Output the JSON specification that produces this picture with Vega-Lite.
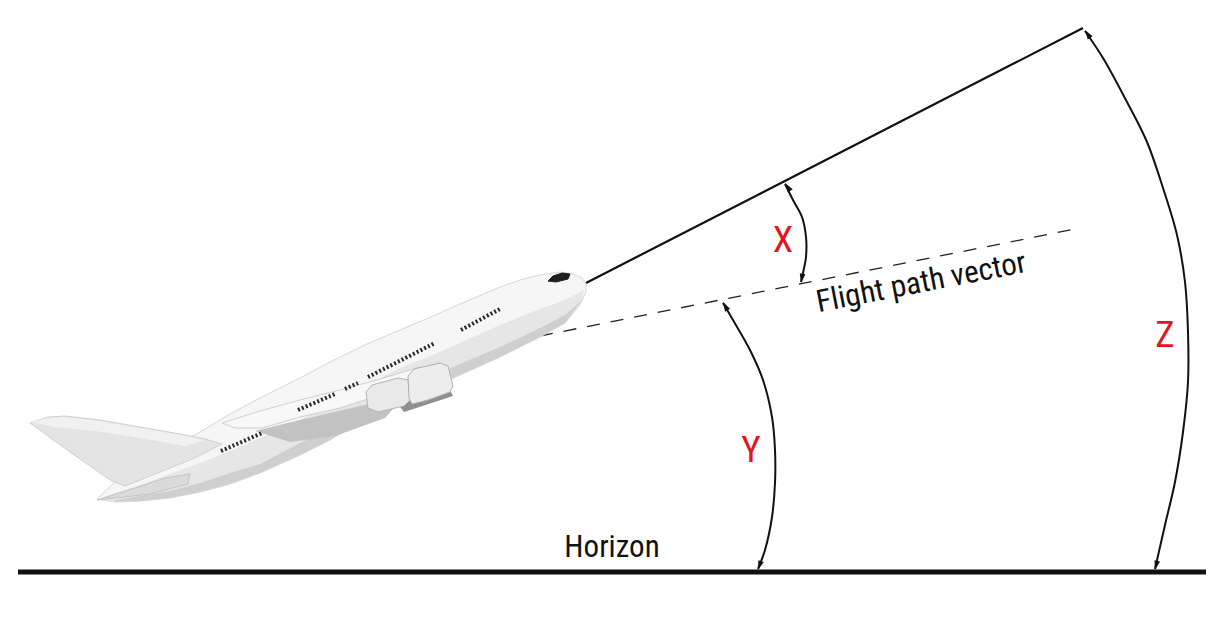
{
  "$schema": "https://vega.github.io/schema/vega-lite/v6.json",
  "description": "Pitch attitude, flight path angle and angle of attack diagram",
  "width": 1224,
  "height": 620,
  "autosize": {"type": "fit", "contains": "padding"},
  "padding": 0,
  "background": "white",
  "config": {"view": {"stroke": null}},
  "datasets": {
    "guides": [
      {"part": "horizon", "i": 0, "x": 18, "y": 572},
      {"part": "horizon", "i": 1, "x": 1206, "y": 572},
      {"part": "sight", "i": 0, "x": 586, "y": 283},
      {"part": "sight", "i": 1, "x": 1083, "y": 28},
      {"part": "fpv", "i": 0, "x": 540, "y": 336},
      {"part": "fpv", "i": 1, "x": 1080, "y": 228}
    ],
    "arcs": [
      {"arc": "X", "i": 0, "x": 785, "y": 184},
      {"arc": "X", "i": 1, "x": 793, "y": 200},
      {"arc": "X", "i": 2, "x": 802, "y": 217},
      {"arc": "X", "i": 3, "x": 806, "y": 237},
      {"arc": "X", "i": 4, "x": 806, "y": 257},
      {"arc": "X", "i": 5, "x": 803, "y": 273},
      {"arc": "X", "i": 6, "x": 801, "y": 282},
      {"arc": "Y", "i": 0, "x": 723, "y": 303},
      {"arc": "Y", "i": 1, "x": 733, "y": 320},
      {"arc": "Y", "i": 2, "x": 750, "y": 350},
      {"arc": "Y", "i": 3, "x": 763, "y": 380},
      {"arc": "Y", "i": 4, "x": 772, "y": 417},
      {"arc": "Y", "i": 5, "x": 775, "y": 450},
      {"arc": "Y", "i": 6, "x": 775, "y": 483},
      {"arc": "Y", "i": 7, "x": 772, "y": 517},
      {"arc": "Y", "i": 8, "x": 765, "y": 550},
      {"arc": "Y", "i": 9, "x": 758, "y": 569},
      {"arc": "Z", "i": 0, "x": 1085, "y": 31},
      {"arc": "Z", "i": 1, "x": 1103, "y": 58},
      {"arc": "Z", "i": 2, "x": 1127, "y": 102},
      {"arc": "Z", "i": 3, "x": 1147, "y": 142},
      {"arc": "Z", "i": 4, "x": 1163, "y": 188},
      {"arc": "Z", "i": 5, "x": 1177, "y": 235},
      {"arc": "Z", "i": 6, "x": 1185, "y": 282},
      {"arc": "Z", "i": 7, "x": 1188, "y": 332},
      {"arc": "Z", "i": 8, "x": 1188, "y": 382},
      {"arc": "Z", "i": 9, "x": 1183, "y": 432},
      {"arc": "Z", "i": 10, "x": 1175, "y": 482},
      {"arc": "Z", "i": 11, "x": 1165, "y": 525},
      {"arc": "Z", "i": 12, "x": 1155, "y": 569}
    ],
    "arrows": [
      {"x": 785, "y": 183, "dir": 326},
      {"x": 801, "y": 283, "dir": 190},
      {"x": 723, "y": 302, "dir": 331},
      {"x": 758, "y": 570, "dir": 199},
      {"x": 1085, "y": 30, "dir": 327},
      {"x": 1155, "y": 570, "dir": 194}
    ],
    "plane": [
      {"part": "fin", "i": 0, "x": 30, "y": 423},
      {"part": "fin", "i": 1, "x": 48, "y": 417},
      {"part": "fin", "i": 2, "x": 65, "y": 416},
      {"part": "fin", "i": 3, "x": 100, "y": 420},
      {"part": "fin", "i": 4, "x": 140, "y": 427},
      {"part": "fin", "i": 5, "x": 180, "y": 434},
      {"part": "fin", "i": 6, "x": 205, "y": 439},
      {"part": "fin", "i": 7, "x": 222, "y": 444},
      {"part": "fin", "i": 8, "x": 195, "y": 458},
      {"part": "fin", "i": 9, "x": 160, "y": 472},
      {"part": "fin", "i": 10, "x": 125, "y": 486},
      {"part": "fin", "i": 11, "x": 110, "y": 480},
      {"part": "fin", "i": 12, "x": 70, "y": 452},
      {"part": "fin", "i": 13, "x": 30, "y": 423},

      {"part": "finband", "i": 0, "x": 32, "y": 422},
      {"part": "finband", "i": 1, "x": 48, "y": 418},
      {"part": "finband", "i": 2, "x": 65, "y": 417},
      {"part": "finband", "i": 3, "x": 100, "y": 421},
      {"part": "finband", "i": 4, "x": 140, "y": 428},
      {"part": "finband", "i": 5, "x": 180, "y": 435},
      {"part": "finband", "i": 6, "x": 205, "y": 440},
      {"part": "finband", "i": 7, "x": 185, "y": 446},
      {"part": "finband", "i": 8, "x": 140, "y": 438},
      {"part": "finband", "i": 9, "x": 95, "y": 431},
      {"part": "finband", "i": 10, "x": 55, "y": 427},
      {"part": "finband", "i": 11, "x": 32, "y": 422},

      {"part": "fuselage", "i": 0, "x": 586, "y": 284},
      {"part": "fuselage", "i": 1, "x": 582, "y": 278},
      {"part": "fuselage", "i": 2, "x": 574, "y": 274},
      {"part": "fuselage", "i": 3, "x": 560, "y": 272},
      {"part": "fuselage", "i": 4, "x": 540, "y": 275},
      {"part": "fuselage", "i": 5, "x": 520, "y": 280},
      {"part": "fuselage", "i": 6, "x": 500, "y": 287},
      {"part": "fuselage", "i": 7, "x": 460, "y": 304},
      {"part": "fuselage", "i": 8, "x": 433, "y": 316},
      {"part": "fuselage", "i": 9, "x": 400, "y": 330},
      {"part": "fuselage", "i": 10, "x": 367, "y": 344},
      {"part": "fuselage", "i": 11, "x": 330, "y": 362},
      {"part": "fuselage", "i": 12, "x": 300, "y": 378},
      {"part": "fuselage", "i": 13, "x": 260, "y": 398},
      {"part": "fuselage", "i": 14, "x": 230, "y": 414},
      {"part": "fuselage", "i": 15, "x": 200, "y": 432},
      {"part": "fuselage", "i": 16, "x": 170, "y": 448},
      {"part": "fuselage", "i": 17, "x": 140, "y": 466},
      {"part": "fuselage", "i": 18, "x": 115, "y": 482},
      {"part": "fuselage", "i": 19, "x": 97, "y": 499},
      {"part": "fuselage", "i": 20, "x": 115, "y": 502},
      {"part": "fuselage", "i": 21, "x": 140, "y": 501},
      {"part": "fuselage", "i": 22, "x": 170, "y": 498},
      {"part": "fuselage", "i": 23, "x": 200, "y": 492},
      {"part": "fuselage", "i": 24, "x": 230, "y": 484},
      {"part": "fuselage", "i": 25, "x": 260, "y": 473},
      {"part": "fuselage", "i": 26, "x": 300, "y": 455},
      {"part": "fuselage", "i": 27, "x": 330, "y": 440},
      {"part": "fuselage", "i": 28, "x": 367, "y": 418},
      {"part": "fuselage", "i": 29, "x": 400, "y": 400},
      {"part": "fuselage", "i": 30, "x": 433, "y": 387},
      {"part": "fuselage", "i": 31, "x": 460, "y": 375},
      {"part": "fuselage", "i": 32, "x": 500, "y": 357},
      {"part": "fuselage", "i": 33, "x": 540, "y": 337},
      {"part": "fuselage", "i": 34, "x": 565, "y": 323},
      {"part": "fuselage", "i": 35, "x": 580, "y": 305},
      {"part": "fuselage", "i": 36, "x": 586, "y": 292},
      {"part": "fuselage", "i": 37, "x": 586, "y": 284},

      {"part": "lower", "i": 0, "x": 584, "y": 290},
      {"part": "lower", "i": 1, "x": 565, "y": 300},
      {"part": "lower", "i": 2, "x": 540, "y": 309},
      {"part": "lower", "i": 3, "x": 500, "y": 325},
      {"part": "lower", "i": 4, "x": 460, "y": 343},
      {"part": "lower", "i": 5, "x": 433, "y": 355},
      {"part": "lower", "i": 6, "x": 400, "y": 368},
      {"part": "lower", "i": 7, "x": 367, "y": 385},
      {"part": "lower", "i": 8, "x": 330, "y": 404},
      {"part": "lower", "i": 9, "x": 300, "y": 420},
      {"part": "lower", "i": 10, "x": 260, "y": 438},
      {"part": "lower", "i": 11, "x": 230, "y": 451},
      {"part": "lower", "i": 12, "x": 200, "y": 463},
      {"part": "lower", "i": 13, "x": 170, "y": 474},
      {"part": "lower", "i": 14, "x": 140, "y": 485},
      {"part": "lower", "i": 15, "x": 115, "y": 493},
      {"part": "lower", "i": 16, "x": 100, "y": 499},
      {"part": "lower", "i": 17, "x": 115, "y": 502},
      {"part": "lower", "i": 18, "x": 140, "y": 501},
      {"part": "lower", "i": 19, "x": 170, "y": 498},
      {"part": "lower", "i": 20, "x": 200, "y": 492},
      {"part": "lower", "i": 21, "x": 230, "y": 484},
      {"part": "lower", "i": 22, "x": 260, "y": 473},
      {"part": "lower", "i": 23, "x": 300, "y": 455},
      {"part": "lower", "i": 24, "x": 330, "y": 440},
      {"part": "lower", "i": 25, "x": 367, "y": 418},
      {"part": "lower", "i": 26, "x": 400, "y": 400},
      {"part": "lower", "i": 27, "x": 433, "y": 387},
      {"part": "lower", "i": 28, "x": 460, "y": 375},
      {"part": "lower", "i": 29, "x": 500, "y": 357},
      {"part": "lower", "i": 30, "x": 540, "y": 337},
      {"part": "lower", "i": 31, "x": 565, "y": 323},
      {"part": "lower", "i": 32, "x": 580, "y": 305},
      {"part": "lower", "i": 33, "x": 584, "y": 290},

      {"part": "belly", "i": 0, "x": 582, "y": 300},
      {"part": "belly", "i": 1, "x": 565, "y": 315},
      {"part": "belly", "i": 2, "x": 540, "y": 328},
      {"part": "belly", "i": 3, "x": 500, "y": 347},
      {"part": "belly", "i": 4, "x": 460, "y": 364},
      {"part": "belly", "i": 5, "x": 433, "y": 376},
      {"part": "belly", "i": 6, "x": 400, "y": 390},
      {"part": "belly", "i": 7, "x": 367, "y": 407},
      {"part": "belly", "i": 8, "x": 330, "y": 428},
      {"part": "belly", "i": 9, "x": 300, "y": 443},
      {"part": "belly", "i": 10, "x": 260, "y": 464},
      {"part": "belly", "i": 11, "x": 230, "y": 473},
      {"part": "belly", "i": 12, "x": 200, "y": 483},
      {"part": "belly", "i": 13, "x": 170, "y": 491},
      {"part": "belly", "i": 14, "x": 140, "y": 496},
      {"part": "belly", "i": 15, "x": 115, "y": 500},
      {"part": "belly", "i": 16, "x": 115, "y": 502},
      {"part": "belly", "i": 17, "x": 140, "y": 501},
      {"part": "belly", "i": 18, "x": 170, "y": 498},
      {"part": "belly", "i": 19, "x": 200, "y": 492},
      {"part": "belly", "i": 20, "x": 230, "y": 484},
      {"part": "belly", "i": 21, "x": 260, "y": 473},
      {"part": "belly", "i": 22, "x": 300, "y": 455},
      {"part": "belly", "i": 23, "x": 330, "y": 440},
      {"part": "belly", "i": 24, "x": 367, "y": 418},
      {"part": "belly", "i": 25, "x": 400, "y": 400},
      {"part": "belly", "i": 26, "x": 433, "y": 387},
      {"part": "belly", "i": 27, "x": 460, "y": 375},
      {"part": "belly", "i": 28, "x": 500, "y": 357},
      {"part": "belly", "i": 29, "x": 540, "y": 337},
      {"part": "belly", "i": 30, "x": 565, "y": 323},
      {"part": "belly", "i": 31, "x": 582, "y": 300},

      {"part": "stab", "i": 0, "x": 97, "y": 500},
      {"part": "stab", "i": 1, "x": 135, "y": 488},
      {"part": "stab", "i": 2, "x": 165, "y": 478},
      {"part": "stab", "i": 3, "x": 190, "y": 474},
      {"part": "stab", "i": 4, "x": 188, "y": 484},
      {"part": "stab", "i": 5, "x": 150, "y": 494},
      {"part": "stab", "i": 6, "x": 97, "y": 500},

      {"part": "shadow", "i": 0, "x": 255, "y": 431},
      {"part": "shadow", "i": 1, "x": 300, "y": 420},
      {"part": "shadow", "i": 2, "x": 360, "y": 406},
      {"part": "shadow", "i": 3, "x": 405, "y": 396},
      {"part": "shadow", "i": 4, "x": 385, "y": 418},
      {"part": "shadow", "i": 5, "x": 335, "y": 436},
      {"part": "shadow", "i": 6, "x": 290, "y": 442},
      {"part": "shadow", "i": 7, "x": 255, "y": 431},

      {"part": "wing", "i": 0, "x": 222, "y": 423},
      {"part": "wing", "i": 1, "x": 260, "y": 411},
      {"part": "wing", "i": 2, "x": 300, "y": 400},
      {"part": "wing", "i": 3, "x": 340, "y": 390},
      {"part": "wing", "i": 4, "x": 380, "y": 379},
      {"part": "wing", "i": 5, "x": 420, "y": 367},
      {"part": "wing", "i": 6, "x": 420, "y": 378},
      {"part": "wing", "i": 7, "x": 380, "y": 395},
      {"part": "wing", "i": 8, "x": 340, "y": 408},
      {"part": "wing", "i": 9, "x": 300, "y": 417},
      {"part": "wing", "i": 10, "x": 262, "y": 428},
      {"part": "wing", "i": 11, "x": 235, "y": 428},
      {"part": "wing", "i": 12, "x": 222, "y": 423},

      {"part": "pylon", "i": 0, "x": 398, "y": 404},
      {"part": "pylon", "i": 1, "x": 450, "y": 390},
      {"part": "pylon", "i": 2, "x": 453, "y": 396},
      {"part": "pylon", "i": 3, "x": 404, "y": 412},
      {"part": "pylon", "i": 4, "x": 398, "y": 404},

      {"part": "engine2", "i": 0, "x": 366, "y": 392},
      {"part": "engine2", "i": 1, "x": 372, "y": 385},
      {"part": "engine2", "i": 2, "x": 398, "y": 378},
      {"part": "engine2", "i": 3, "x": 408, "y": 380},
      {"part": "engine2", "i": 4, "x": 410, "y": 400},
      {"part": "engine2", "i": 5, "x": 404, "y": 406},
      {"part": "engine2", "i": 6, "x": 378, "y": 412},
      {"part": "engine2", "i": 7, "x": 368, "y": 408},
      {"part": "engine2", "i": 8, "x": 366, "y": 392},

      {"part": "engine1", "i": 0, "x": 408, "y": 376},
      {"part": "engine1", "i": 1, "x": 414, "y": 369},
      {"part": "engine1", "i": 2, "x": 440, "y": 363},
      {"part": "engine1", "i": 3, "x": 448, "y": 366},
      {"part": "engine1", "i": 4, "x": 453, "y": 386},
      {"part": "engine1", "i": 5, "x": 450, "y": 392},
      {"part": "engine1", "i": 6, "x": 428, "y": 400},
      {"part": "engine1", "i": 7, "x": 412, "y": 404},
      {"part": "engine1", "i": 8, "x": 409, "y": 398},
      {"part": "engine1", "i": 9, "x": 408, "y": 376},

      {"part": "cockpit", "i": 0, "x": 548, "y": 281},
      {"part": "cockpit", "i": 1, "x": 553, "y": 276},
      {"part": "cockpit", "i": 2, "x": 562, "y": 273},
      {"part": "cockpit", "i": 3, "x": 570, "y": 274},
      {"part": "cockpit", "i": 4, "x": 568, "y": 279},
      {"part": "cockpit", "i": 5, "x": 556, "y": 282},
      {"part": "cockpit", "i": 6, "x": 548, "y": 281}
    ],
    "windows": [
      {"row": 1, "i": 0, "x": 461, "y": 330},
      {"row": 1, "i": 1, "x": 500, "y": 309},
      {"row": 2, "i": 0, "x": 368, "y": 377},
      {"row": 2, "i": 1, "x": 435, "y": 343},
      {"row": 3, "i": 0, "x": 345, "y": 389},
      {"row": 3, "i": 1, "x": 358, "y": 383},
      {"row": 4, "i": 0, "x": 298, "y": 410},
      {"row": 4, "i": 1, "x": 335, "y": 394},
      {"row": 5, "i": 0, "x": 221, "y": 451},
      {"row": 5, "i": 1, "x": 262, "y": 433}
    ],
    "angles": [
      {"label": "X", "x": 783, "y": 252},
      {"label": "Y", "x": 751, "y": 462},
      {"label": "Z", "x": 1165, "y": 347}
    ],
    "names": [
      {"label": "Horizon", "x": 612, "y": 557}
    ],
    "vector": [
      {"label": "Flight path vector", "x": 923, "y": 292}
    ]
  },
  "encoding": {
    "x": {"field": "x", "type": "quantitative", "scale": {"domain": [0, 1224], "nice": false, "zero": false}, "axis": null},
    "y": {"field": "y", "type": "quantitative", "scale": {"domain": [0, 620], "nice": false, "zero": false, "reverse": true}, "axis": null}
  },
  "layer": [
    {
      "data": {"name": "guides"},
      "transform": [{"filter": "datum.part == 'horizon'"}],
      "mark": {"type": "line", "stroke": "#111", "strokeWidth": 5},
      "encoding": {"order": {"field": "i"}}
    },
    {
      "data": {"name": "guides"},
      "transform": [{"filter": "datum.part == 'sight'"}],
      "mark": {"type": "line", "stroke": "#111", "strokeWidth": 2.2},
      "encoding": {"order": {"field": "i"}}
    },
    {
      "data": {"name": "guides"},
      "transform": [{"filter": "datum.part == 'fpv'"}],
      "mark": {"type": "line", "stroke": "#222", "strokeWidth": 1.3, "strokeDash": [13, 11]},
      "encoding": {"order": {"field": "i"}}
    },
    {
      "data": {"name": "plane"},
      "transform": [{"filter": "datum.part == 'fuselage'"}],
      "mark": {"type": "line", "fill": "#f6f6f6", "stroke": "#d6d6d6", "strokeWidth": 1},
      "encoding": {"order": {"field": "i"}}
    },
    {
      "data": {"name": "plane"},
      "transform": [{"filter": "datum.part == 'lower'"}],
      "mark": {"type": "line", "fill": "#e6e6e6", "strokeWidth": 0},
      "encoding": {"order": {"field": "i"}}
    },
    {
      "data": {"name": "plane"},
      "transform": [{"filter": "datum.part == 'belly'"}],
      "mark": {"type": "line", "fill": "#cfcfcf", "strokeWidth": 0},
      "encoding": {"order": {"field": "i"}}
    },
    {
      "data": {"name": "plane"},
      "transform": [{"filter": "datum.part == 'fin'"}],
      "mark": {"type": "line", "fill": "#e4e4e4", "stroke": "#d0d0d0", "strokeWidth": 1},
      "encoding": {"order": {"field": "i"}}
    },
    {
      "data": {"name": "plane"},
      "transform": [{"filter": "datum.part == 'finband'"}],
      "mark": {"type": "line", "fill": "#f1f1f1", "strokeWidth": 0},
      "encoding": {"order": {"field": "i"}}
    },
    {
      "data": {"name": "plane"},
      "transform": [{"filter": "datum.part == 'stab'"}],
      "mark": {"type": "line", "fill": "#dadada", "stroke": "#c4c4c4", "strokeWidth": 1},
      "encoding": {"order": {"field": "i"}}
    },
    {
      "data": {"name": "plane"},
      "transform": [{"filter": "datum.part == 'shadow'"}],
      "mark": {"type": "line", "fill": "#c2c2c2", "strokeWidth": 0},
      "encoding": {"order": {"field": "i"}}
    },
    {
      "data": {"name": "plane"},
      "transform": [{"filter": "datum.part == 'wing'"}],
      "mark": {"type": "line", "fill": "#f8f8f8", "stroke": "#cfcfcf", "strokeWidth": 1},
      "encoding": {"order": {"field": "i"}}
    },
    {
      "data": {"name": "plane"},
      "transform": [{"filter": "datum.part == 'pylon'"}],
      "mark": {"type": "line", "fill": "#8f8f8f", "strokeWidth": 0},
      "encoding": {"order": {"field": "i"}}
    },
    {
      "data": {"name": "plane"},
      "transform": [{"filter": "datum.part == 'engine2'"}],
      "mark": {"type": "line", "fill": "#e9e9e9", "stroke": "#b5b5b5", "strokeWidth": 1},
      "encoding": {"order": {"field": "i"}}
    },
    {
      "data": {"name": "plane"},
      "transform": [{"filter": "datum.part == 'engine1'"}],
      "mark": {"type": "line", "fill": "#ededed", "stroke": "#b0b0b0", "strokeWidth": 1},
      "encoding": {"order": {"field": "i"}}
    },
    {
      "data": {"name": "plane"},
      "transform": [{"filter": "datum.part == 'cockpit'"}],
      "mark": {"type": "line", "fill": "#1f1f1f", "stroke": "#1f1f1f", "strokeWidth": 1},
      "encoding": {"order": {"field": "i"}}
    },
    {
      "data": {"name": "windows"},
      "mark": {"type": "line", "stroke": "#2a2a2a", "strokeWidth": 4, "strokeDash": [2, 2.2]},
      "encoding": {"order": {"field": "i"}, "detail": {"field": "row"}}
    },
    {
      "data": {"name": "arcs"},
      "mark": {"type": "line", "stroke": "#111", "strokeWidth": 2, "interpolate": "catmull-rom"},
      "encoding": {"order": {"field": "i"}, "detail": {"field": "arc"}}
    },
    {
      "data": {"name": "arrows"},
      "mark": {"type": "point", "shape": "M0,0L0.55,1.8L-0.55,1.8Z", "filled": true, "color": "#111", "size": 110, "opacity": 1},
      "encoding": {"angle": {"field": "dir", "type": "quantitative", "scale": null}}
    },
    {
      "data": {"name": "angles"},
      "mark": {"type": "text", "font": "Liberation Sans Narrow, Roboto Condensed, Roboto, sans-serif", "fontSize": 37, "color": "#e3161f", "align": "center", "baseline": "alphabetic"},
      "encoding": {"text": {"field": "label"}}
    },
    {
      "data": {"name": "names"},
      "mark": {"type": "text", "font": "Liberation Sans Narrow, Roboto Condensed, Roboto, sans-serif", "fontSize": 31, "color": "#111", "align": "center", "baseline": "alphabetic"},
      "encoding": {"text": {"field": "label"}}
    },
    {
      "data": {"name": "vector"},
      "mark": {"type": "text", "font": "Liberation Sans Narrow, Roboto Condensed, Roboto, sans-serif", "fontSize": 31, "color": "#111", "align": "center", "baseline": "alphabetic", "angle": -11},
      "encoding": {"text": {"field": "label"}}
    }
  ]
}
